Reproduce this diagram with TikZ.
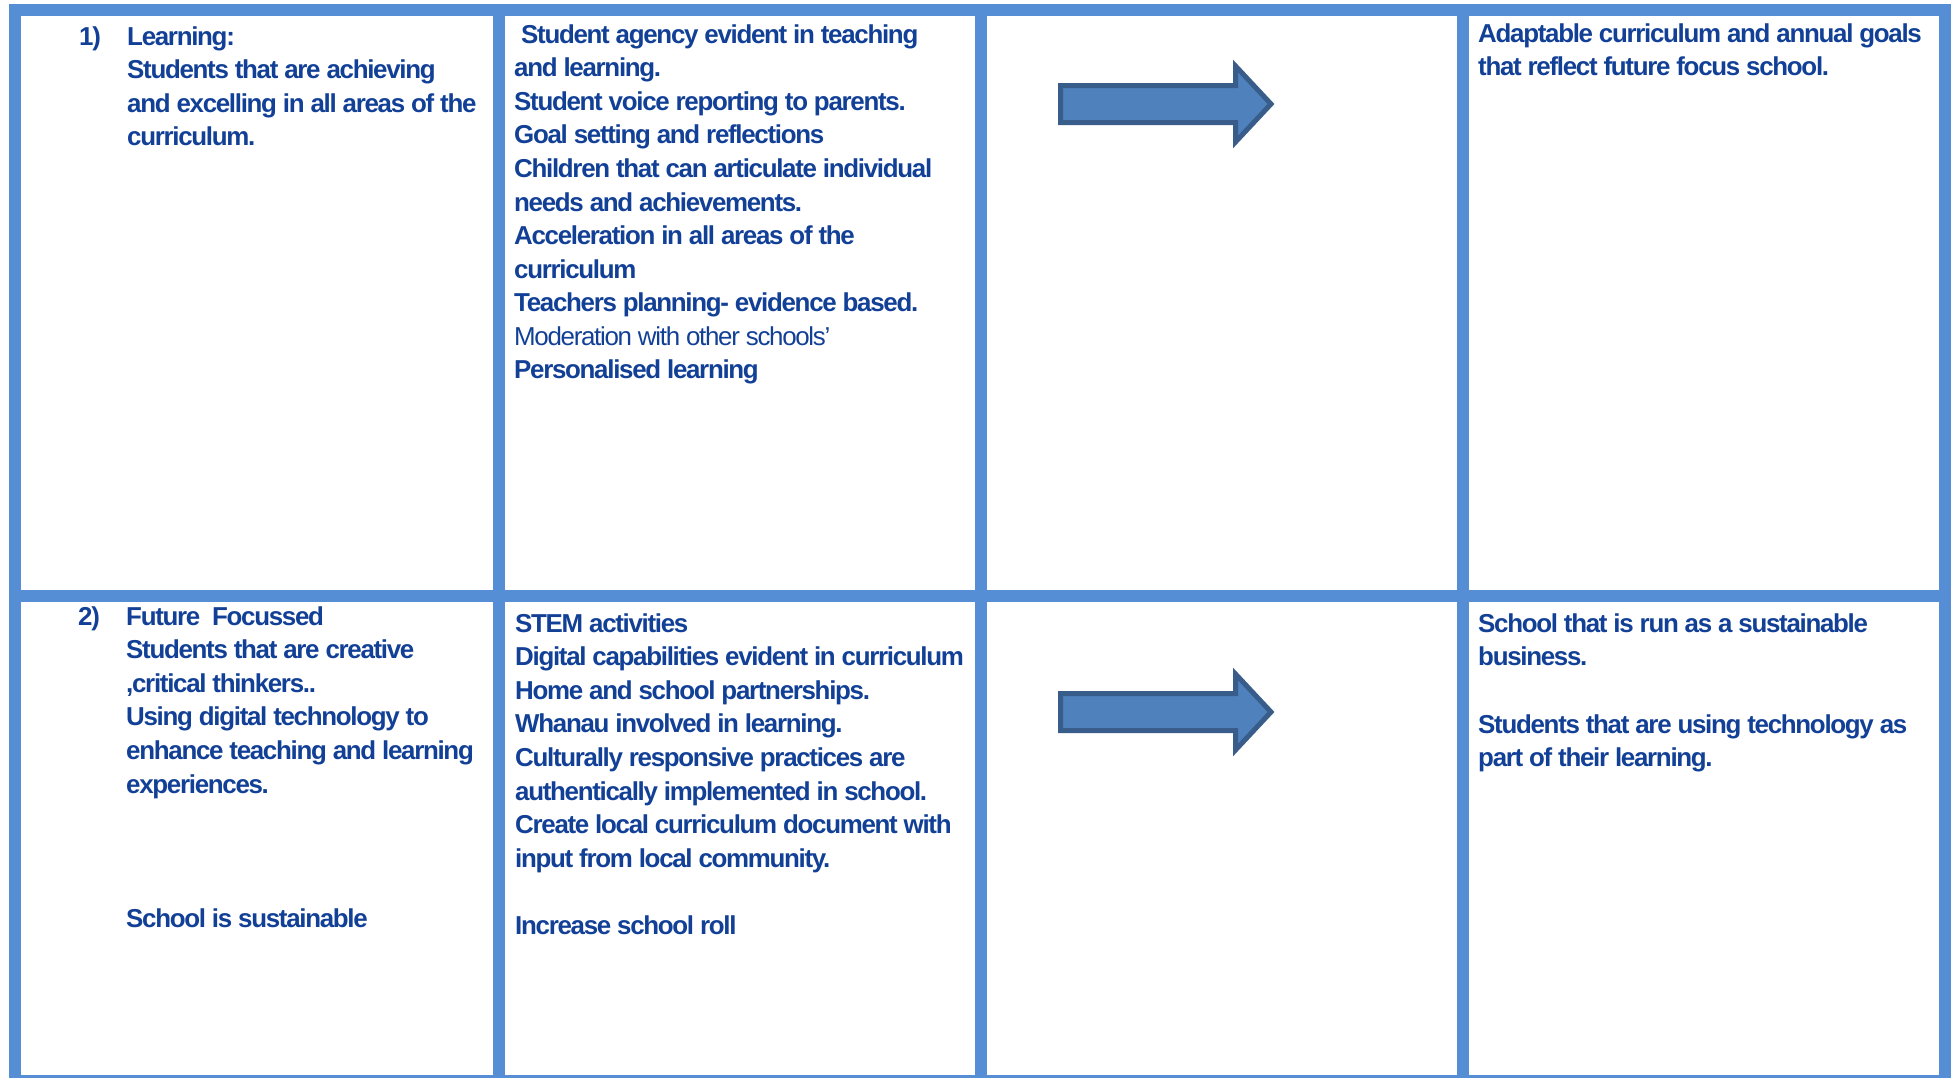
\documentclass[tikz,border=0pt]{standalone}
\usepackage{fontspec}
\setmainfont{Liberation Sans}
\newfontfamily\cellfont{Liberation Sans}[LetterSpace=-5]
\usepackage{tikz}
\usetikzlibrary{positioning}

\definecolor{rulecol}{RGB}{85,142,213}
\definecolor{celltext}{RGB}{18,64,150}
\definecolor{arrowfill}{RGB}{79,129,189}
\definecolor{arrowline}{RGB}{56,93,138}

\newcommand{\topstrut}{\rule{0pt}{25bp}}

\begin{document}
\begin{tikzpicture}[x=1bp,y=-1bp,
  rule/.style={draw=rulecol,line width=12bp},
  cell/.style={anchor=north west,align=left,inner sep=0pt,text=celltext,
    font=\cellfont\bfseries\fontsize{26}{33.7}\selectfont},
  blockarrow/.style={fill=arrowfill,draw=arrowline,line width=5bp,line join=miter}]
\useasboundingbox (0,0) rectangle (1951,1077);
\fill[white] (0,0) rectangle (1951,1077);

\draw[rule] (15,10) rectangle (1945,1081);
\draw[rule] (15,596) -- (1945,596);
\draw[rule] (498.5,10) -- (498.5,1081);
\draw[rule] (981,10) -- (981,1081);
\draw[rule] (1462.5,10) -- (1462.5,1081);

\draw[blockarrow] (1060.5,85.5) -- (1235.5,85.5) -- (1235.5,66) -- (1271,104)
  -- (1235.5,142) -- (1235.5,122.5) -- (1060.5,122.5) -- cycle;
\draw[blockarrow] (1060.5,693.5) -- (1235.5,693.5) -- (1235.5,674) -- (1271,712)
  -- (1235.5,750) -- (1235.5,730.5) -- (1060.5,730.5) -- cycle;

% baselines sit 25bp below each anchor
\node[cell] (num1) at (79,20) {\topstrut1)};
\node[cell] (learn) at (127,20) {\topstrut Learning:\\
  Students that are achieving\\
  and excelling in all areas of the\\
  curriculum.};

\node[cell] (evid1) at (514,18) {\topstrut\hspace{7bp}Student agency evident in teaching\\
  and learning.\\
  Student voice reporting to parents.\\
  Goal setting and reflections\\
  Children that can articulate individual\\
  needs and achievements.\\
  Acceleration in all areas of the\\
  curriculum\\
  Teachers planning- evidence based.\\
  {\mdseries Moderation with other schools’}\\
  Personalised learning};

\node[cell] (goal1) at (1478,17) {\topstrut Adaptable curriculum and annual goals\\
  that reflect future focus school.};

\node[cell] (num2) at (78,600) {\topstrut2)};
\node[cell] (future) at (126,600) {\topstrut Future\ \ Focussed\\
  Students that are creative\\
  ,critical thinkers..\\
  Using digital technology to\\
  enhance teaching and learning\\
  experiences.\\[101bp]
  School is sustainable};

\node[cell] (evid2) at (515,607) {\topstrut STEM activities\\
  Digital capabilities evident in curriculum\\
  Home and school partnerships.\\
  Whanau involved in learning.\\
  Culturally responsive practices are\\
  authentically implemented in school.\\
  Create local curriculum document with\\
  input from local community.\\[33.7bp]
  Increase school roll};

\node[cell] (goal2) at (1478,607) {\topstrut School that is run as a sustainable\\
  business.\\[33.7bp]
  Students that are using technology as\\
  part of their learning.};

\end{tikzpicture}
\end{document}
